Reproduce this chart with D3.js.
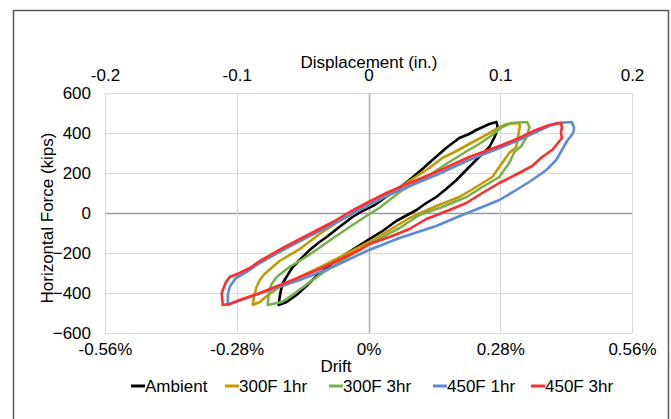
<!DOCTYPE html>
<html>
<head>
<meta charset="utf-8">
<script src="https://cdn.jsdelivr.net/npm/d3@7"></script>
<style>
  html, body { margin: 0; padding: 0; background: #fff; }
  svg { display: block; }
  text { font-family: "Liberation Sans", Arial, sans-serif; fill: #000; }
</style>
</head>
<body>
<svg id="chart" width="671" height="419"></svg>
<script>
// ---- Data (drift %, horizontal force kips) ----
const driftTicks = [-0.56, -0.28, 0, 0.28, 0.56];
const driftTickLabels = ["-0.56%", "-0.28%", "0%", "0.28%", "0.56%"];
const dispTicks = [-0.2, -0.1, 0, 0.1, 0.2];
const dispTickLabels = ["-0.2", "-0.1", "0", "0.1", "0.2"];
const forceTicks = [-600, -400, -200, 0, 200, 400, 600];

const seriesNames = ["Ambient", "300F 1hr", "300F 3hr", "450F 1hr", "450F 3hr"];
const seriesColors = ["#000000", "#C49A00", "#78B04A", "#5B8BD6", "#FF2E2E"];

const ambient = [
  [-0.191,-455],[-0.187,-395],[-0.182,-350],[-0.172,-310],[-0.161,-270],[-0.142,-225],[-0.125,-185],
  [-0.104,-145],[-0.089,-120],[-0.062,-70],[-0.034,-20],[-0.013,10],[0.013,40],[0.034,75],[0.062,120],
  [0.087,165],[0.112,215],[0.136,265],[0.165,325],[0.193,375],[0.214,395],[0.229,415],[0.257,445],[0.272,455],
  [0.274,435],[0.272,405],[0.267,375],[0.257,330],[0.235,280],[0.214,230],[0.187,165],[0.165,120],
  [0.144,80],[0.123,50],[0.102,15],[0.059,-40],[0.030,-90],[0.002,-130],[-0.025,-170],[-0.068,-235],
  [-0.104,-300],[-0.132,-365],[-0.153,-410],[-0.174,-445],[-0.191,-460]
];
const f300h1 = [
  [-0.246,-455],[-0.242,-405],[-0.238,-370],[-0.231,-335],[-0.221,-305],[-0.189,-240],[-0.146,-180],
  [-0.104,-105],[-0.062,-40],[-0.019,15],[0.002,40],[0.045,95],[0.087,160],[0.129,225],[0.157,275],
  [0.187,310],[0.214,345],[0.242,380],[0.272,420],[0.293,445],[0.318,450],
  [0.322,440],[0.318,385],[0.314,330],[0.299,300],[0.284,250],[0.263,180],[0.229,130],[0.193,80],
  [0.144,35],[0.087,-25],[0.045,-85],[0.002,-145],[-0.040,-195],[-0.089,-255],[-0.146,-320],
  [-0.189,-370],[-0.216,-415],[-0.231,-445],[-0.246,-460]
];
const f300h3 = [
  [-0.214,-455],[-0.212,-400],[-0.206,-355],[-0.195,-320],[-0.168,-270],[-0.140,-230],[-0.108,-180],
  [-0.072,-120],[-0.040,-70],[-0.008,-20],[0.023,25],[0.072,115],[0.123,180],[0.165,245],[0.199,295],
  [0.235,345],[0.263,390],[0.284,430],[0.303,450],[0.337,455],
  [0.342,430],[0.337,385],[0.325,335],[0.310,305],[0.299,250],[0.278,180],[0.242,130],[0.208,80],
  [0.157,30],[0.108,-10],[0.066,-75],[0.002,-155],[-0.055,-235],[-0.110,-320],[-0.153,-395],
  [-0.184,-445],[-0.214,-460]
];
const f450h1 = [
  [-0.299,-455],[-0.299,-410],[-0.295,-370],[-0.282,-325],[-0.259,-295],[-0.231,-250],[-0.182,-185],
  [-0.125,-115],[-0.076,-55],[-0.040,-10],[-0.004,35],[0.038,85],[0.072,120],[0.144,190],[0.214,265],
  [0.284,330],[0.320,365],[0.356,405],[0.384,435],[0.401,450],[0.432,455],
  [0.437,425],[0.435,400],[0.422,360],[0.411,315],[0.399,265],[0.378,215],[0.348,165],[0.314,115],
  [0.278,65],[0.242,30],[0.199,-10],[0.144,-65],[0.066,-125],[-0.004,-190],[-0.076,-270],
  [-0.146,-335],[-0.216,-390],[-0.252,-420],[-0.295,-455],[-0.299,-460]
];
const f450h3 = [
  [-0.310,-455],[-0.312,-400],[-0.303,-345],[-0.295,-320],[-0.274,-300],[-0.252,-275],[-0.231,-240],
  [-0.182,-175],[-0.125,-105],[-0.076,-45],[-0.040,5],[-0.004,50],[0.038,100],[0.072,135],[0.144,205],
  [0.214,280],[0.284,340],[0.320,375],[0.356,415],[0.384,440],[0.409,450],
  [0.411,430],[0.409,400],[0.411,375],[0.401,345],[0.390,315],[0.369,280],[0.348,235],[0.320,200],
  [0.278,150],[0.242,100],[0.208,50],[0.172,15],[0.123,-30],[0.087,-80],[0.045,-120],[0.002,-155],
  [-0.019,-185],[-0.089,-265],[-0.161,-335],[-0.231,-400],[-0.274,-435],[-0.295,-455],[-0.310,-460]
];
const seriesData = [ambient, f300h1, f300h3, f450h1, f450h3];

// ---- Layout ----
const svg = d3.select("#chart");
const L = 105, R = 632, T = 93, B = 333;

const x = d3.scaleLinear().domain([-0.56, 0.56]).range([L, R]);
const xTop = d3.scaleLinear().domain([-0.2, 0.2]).range([L, R]);
const y = d3.scaleLinear().domain([-600, 600]).range([B, T]);

// outer border
svg.append("rect")
  .attr("x", 13.5).attr("y", 10.5).attr("width", 655).attr("height", 430)
  .attr("fill", "none").attr("stroke", "#595959").attr("stroke-width", 1.5);

// gridlines
const grid = svg.append("g");
grid.selectAll("line.h").data(forceTicks).join("line")
  .attr("x1", L).attr("x2", R)
  .attr("y1", d => Math.round(y(d)) + 0.5).attr("y2", d => Math.round(y(d)) + 0.5)
  .attr("stroke", d => d === 0 ? "#9a9a9a" : "#d9d9d9").attr("stroke-width", d => d === 0 ? 1.3 : 1);
grid.selectAll("line.v").data(driftTicks).join("line")
  .attr("y1", T).attr("y2", B)
  .attr("x1", d => Math.round(x(d)) + 0.5).attr("x2", d => Math.round(x(d)) + 0.5)
  .attr("stroke", d => d === 0 ? "#b0b0b0" : "#d9d9d9").attr("stroke-width", d => d === 0 ? 1.5 : 1);

// axes (labels only)
const fs = "17px";
const axB = svg.append("g").attr("transform", `translate(0,${B})`)
  .call(d3.axisBottom(x).tickValues(driftTicks).tickSize(0).tickPadding(10)
    .tickFormat((d, i) => driftTickLabels[i]));
const axT = svg.append("g").attr("transform", `translate(0,${T})`)
  .call(d3.axisTop(xTop).tickValues(dispTicks).tickSize(0).tickPadding(12)
    .tickFormat((d, i) => dispTickLabels[i]));
const axL = svg.append("g").attr("transform", `translate(${L},0)`)
  .call(d3.axisLeft(y).tickValues(forceTicks).tickSize(0).tickPadding(14)
    .tickFormat(d3.format("d")));
[axB, axT, axL].forEach(a => {
  a.select(".domain").remove();
  a.selectAll("text").style("font-size", fs).attr("fill", "#000")
    .style("font-family", '"Liberation Sans", Arial, sans-serif');
});

// axis titles
svg.append("text").attr("x", 369).attr("y", 68).attr("text-anchor", "middle")
  .style("font-size", fs).text("Displacement (in.)");
svg.append("text").attr("x", 336).attr("y", 372).attr("text-anchor", "middle")
  .style("font-size", fs).text("Drift");
svg.append("text").attr("transform", "translate(53,218) rotate(-90)").attr("text-anchor", "middle")
  .style("font-size", fs).text("Horizontal Force (kips)");

// series
const line = d3.line().x(d => x(d[0])).y(d => y(d[1]));
svg.append("g").selectAll("path").data(seriesData).join("path")
  .attr("d", line)
  .attr("fill", "none")
  .attr("stroke", (d, i) => seriesColors[i])
  .attr("stroke-width", 2.6)
  .attr("stroke-linejoin", "round")
  .attr("stroke-linecap", "round");

// legend
const legendX = [131, 225, 329, 433, 531];
const lg = svg.append("g");
seriesNames.forEach((n, i) => {
  lg.append("line").attr("x1", legendX[i]).attr("x2", legendX[i] + 14)
    .attr("y1", 386).attr("y2", 386)
    .attr("stroke", seriesColors[i]).attr("stroke-width", 3);
  lg.append("text").attr("x", legendX[i] + 14).attr("y", 392)
    .style("font-size", fs).text(n);
});
</script>
</body>
</html>
